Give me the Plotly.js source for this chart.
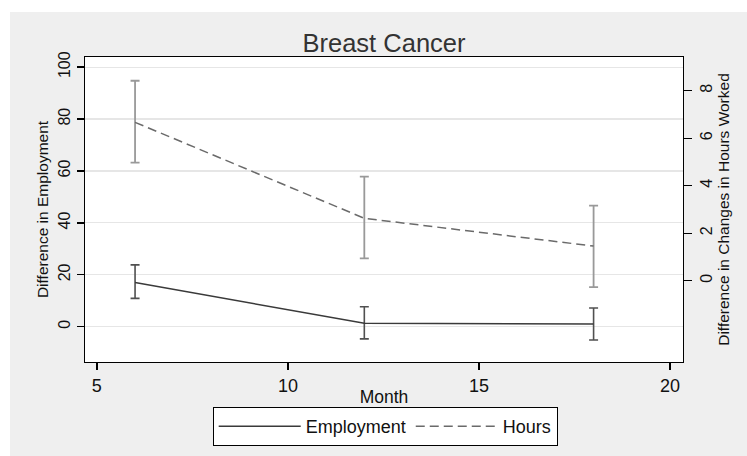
<!DOCTYPE html>
<html>
<head>
<meta charset="utf-8">
<script src="https://cdn.plot.ly/plotly-3.0.1.min.js"></script>
<style>html,body{margin:0;padding:0;background:#fff;}#chart{width:747px;height:456px;}</style>
</head>
<body>
<div id="chart"></div>
<script>
// Data
var months = [6, 12, 18];
var employment = [17.0, 1.3, 1.0];
var employmentUpper = [23.8, 7.7, 7.2];
var employmentLower = [10.9, -4.7, -5.1];
var hours = [6.67, 2.63, 1.46];
var hoursUpper = [8.42, 4.38, 3.16];
var hoursLower = [4.97, 0.94, -0.27];
var xTicks = [5, 10, 15, 20];
var yTicks = [0, 20, 40, 60, 80, 100];
var y2Ticks = [0, 2, 4, 6, 8];

function diff(a, b) { return a.map(function (v, i) { return v - b[i]; }); }

var FONT = 'Liberation Sans, Arial, Helvetica, sans-serif';

var traces = [
  {
    x: months, y: employment, name: 'Employment', type: 'scatter', mode: 'lines',
    line: {color: '#3a3a3a', width: 1.5},
    error_y: {type: 'data', symmetric: false, array: diff(employmentUpper, employment),
      arrayminus: diff(employment, employmentLower), color: '#505050', thickness: 1.6, width: 4.5},
    yaxis: 'y'
  },
  {
    x: months, y: hours, name: 'Hours', type: 'scatter', mode: 'lines',
    line: {color: '#6a6a6a', width: 1.5, dash: '9px,5px'},
    error_y: {type: 'data', symmetric: false, array: diff(hoursUpper, hours),
      arrayminus: diff(hours, hoursLower), color: '#999999', thickness: 1.8, width: 4.5},
    yaxis: 'y2'
  }
];

var layout = {
  width: 747, height: 456,
  margin: {l: 85, r: 64, t: 57, b: 94, pad: 0, autoexpand: false},
  paper_bgcolor: '#efefef',
  plot_bgcolor: '#ffffff',
  font: {family: FONT, color: '#111'},
  showlegend: true,
  title: {text: 'Breast Cancer', font: {family: FONT, size: 25.5, color: '#333'},
    x: 0.5, xref: 'paper', xanchor: 'center', y: 1 - 43 / 456, yref: 'container', yanchor: 'middle'},
  xaxis: {
    range: [4.69, 20.34], tickvals: xTicks, ticktext: xTicks.map(String),
    ticks: 'outside', ticklen: 7, tickwidth: 1.3, tickcolor: '#000',
    showline: true, linecolor: '#000', linewidth: 1.3, mirror: true,
    showgrid: false, zeroline: false,
    tickfont: {family: FONT, size: 18, color: '#111'},
    title: {text: 'Month', font: {family: FONT, size: 17.5, color: '#111'}, standoff: 0},
    automargin: false
  },
  yaxis: {
    range: [-13.6, 103.9], tickvals: yTicks, ticktext: yTicks.map(String),
    ticks: 'outside', ticklen: 7, tickwidth: 1.3, tickcolor: '#000',
    showline: true, linecolor: '#000', linewidth: 1.3,
    showgrid: true, gridcolor: '#e6e6e6', gridwidth: 1.2, zeroline: false,
    tickangle: -90,
    tickfont: {family: FONT, size: 16, color: '#111'},
    title: {text: 'Difference in Employment', font: {family: FONT, size: 15.5, color: '#111'}, standoff: 4},
    automargin: false
  },
  yaxis2: {
    range: [-3.42, 9.42], tickvals: y2Ticks, ticktext: y2Ticks.map(String),
    overlaying: 'y', side: 'right',
    ticks: 'outside', ticklen: 8, tickwidth: 1.3, tickcolor: '#000',
    showline: true, linecolor: '#000', linewidth: 1.3,
    showgrid: false, zeroline: false,
    tickangle: -90,
    tickfont: {family: FONT, size: 16, color: '#111'},
    title: {text: 'Difference in Changes in Hours Worked', font: {family: FONT, size: 15.5, color: '#111'}, standoff: 4},
    automargin: false
  },
  legend: {
    orientation: 'h', x: 0.502, xanchor: 'center', y: 1 - 407 / 456, yref: 'container', yanchor: 'top',
    bgcolor: '#ffffff', bordercolor: '#000', borderwidth: 1,
    font: {family: FONT, size: 18, color: '#111'},
    itemwidth: 82, itemclick: false, itemdoubleclick: false
  },
  shapes: [
    {type: 'rect', xref: 'paper', yref: 'paper', x0: -0.2, x1: 1.2, y0: (362 - 12) / 305, y1: 1.3,
      fillcolor: '#ffffff', line: {width: 0}, layer: 'below'},
    {type: 'rect', xref: 'paper', yref: 'paper', x0: -0.2, x1: (10 - 85) / 598, y0: -0.4, y1: 1.3,
      fillcolor: '#ffffff', line: {width: 0}, layer: 'below'}
  ]
};

Plotly.newPlot('chart', traces, layout, {displayModeBar: false, staticPlot: true});
</script>
</body>
</html>
